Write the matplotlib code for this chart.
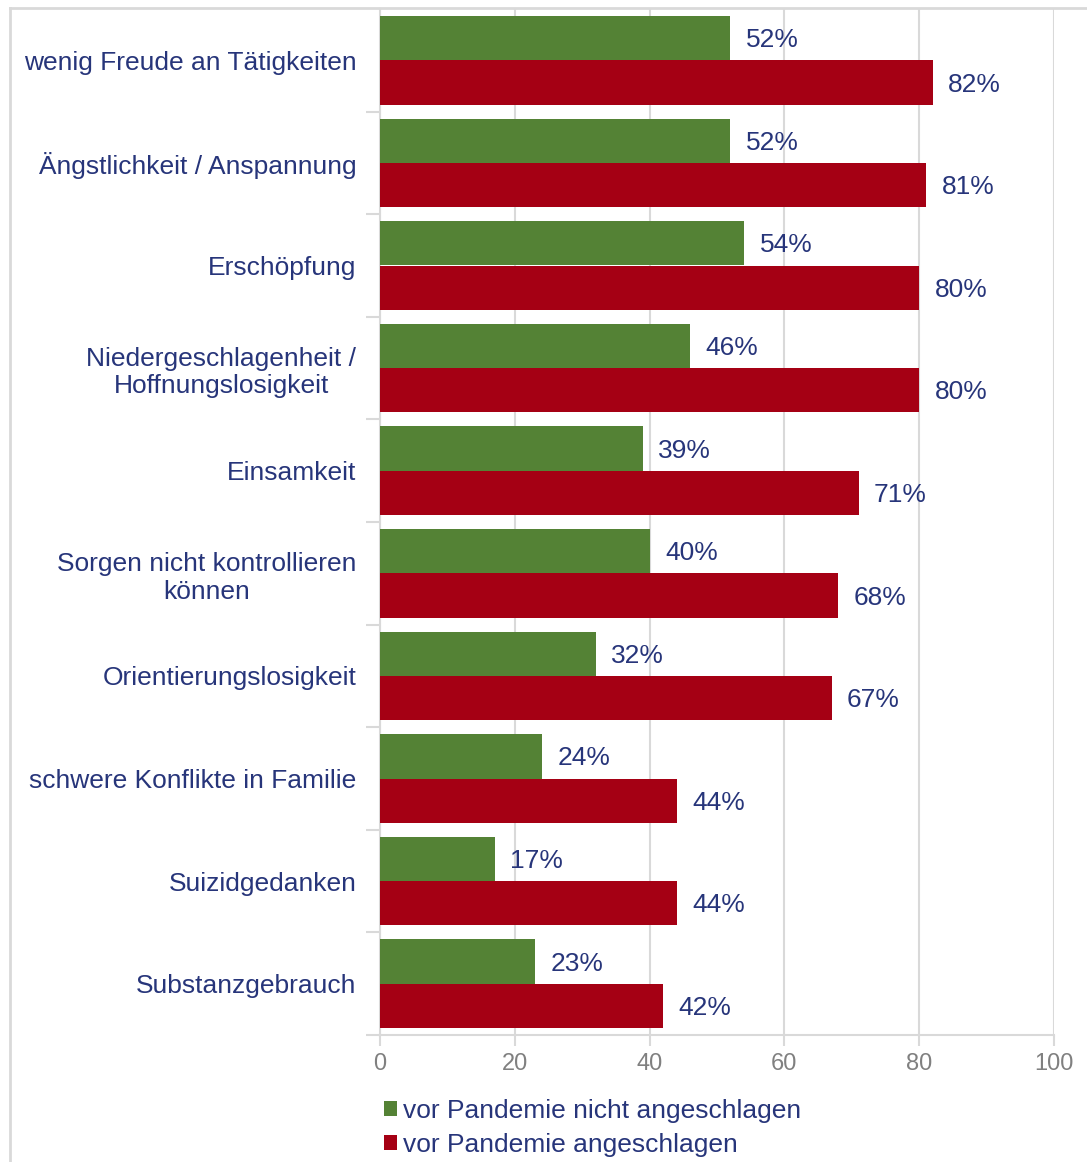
import matplotlib.pyplot as plt
import numpy as np
from matplotlib.lines import Line2D

plt.rcParams['font.family'] = ['Liberation Sans', 'DejaVu Sans']

# Daten
kategorien = ['wenig Freude an Tätigkeiten', 'Ängstlichkeit / Anspannung', 'Erschöpfung',
              'Niedergeschlagenheit /\nHoffnungslosigkeit', 'Einsamkeit',
              'Sorgen nicht kontrollieren\nkönnen', 'Orientierungslosigkeit',
              'schwere Konflikte in Familie', 'Suizidgedanken', 'Substanzgebrauch']
nicht_angeschlagen = [52, 52, 54, 46, 39, 40, 32, 24, 17, 23]
angeschlagen = [82, 81, 80, 80, 71, 68, 67, 44, 44, 42]
serien = ['vor Pandemie nicht angeschlagen', 'vor Pandemie angeschlagen']
x_ticks = [0, 20, 40, 60, 80, 100]

gruen = '#548235'
rot = '#A50014'
text_farbe = '#27357A'
grau = '#D9D9D9'

fig = plt.figure(figsize=(10.87, 11.62), dpi=100)
ax = fig.add_axes([380 / 1087, 1 - 1035 / 1162, 674 / 1087, 1026 / 1162])

y = np.arange(len(kategorien))
h = 0.432
b1 = ax.barh(y - h / 2, nicht_angeschlagen, height=h, color=gruen, label=serien[0], zorder=3)
b2 = ax.barh(y + h / 2, angeschlagen, height=h, color=rot, label=serien[1], zorder=3)

for i in range(len(kategorien)):
    ax.text(nicht_angeschlagen[i] + 2.3, y[i] - h / 2 + 0.02, '%d%%' % nicht_angeschlagen[i],
            va='center', ha='left', color=text_farbe, fontsize=19)
    ax.text(angeschlagen[i] + 2.3, y[i] + h / 2 + 0.02, '%d%%' % angeschlagen[i],
            va='center', ha='left', color=text_farbe, fontsize=19)

ax.set_xlim(0, 100)
ax.set_ylim(9.5, -0.5)
ax.set_xticks(x_ticks)
ax.set_yticks(y)
ax.set_yticklabels(kategorien, color=text_farbe, fontsize=19, multialignment='center')
ax.set_yticks(np.arange(len(kategorien)) + 0.5, minor=True)
ax.tick_params(axis='y', which='major', length=0, pad=17)
ax.tick_params(axis='y', which='minor', length=10, width=1.5, color=grau)
ax.tick_params(axis='x', length=8, width=1.5, color=grau, labelcolor='#808080',
               labelsize=17, pad=5)

ax.grid(axis='x', color=grau, linewidth=1.5, zorder=0)
for s in ['top', 'right']:
    ax.spines[s].set_visible(False)
for s in ['left', 'bottom']:
    ax.spines[s].set_color(grau)
    ax.spines[s].set_linewidth(1.5)

# Rahmen
fig.add_artist(Line2D([10 / 1087, 10 / 1087], [0, 1 - 8 / 1162], transform=fig.transFigure,
                      color=grau, linewidth=2))
fig.add_artist(Line2D([10 / 1087, 1], [1 - 8 / 1162, 1 - 8 / 1162], transform=fig.transFigure,
                      color=grau, linewidth=2))

fig.legend(handles=[b1, b2], loc='upper left', bbox_to_anchor=(371 / 1087, 1 - 1086 / 1162),
           frameon=False, fontsize=19, handlelength=0.48, handleheight=0.48,
           handletextpad=0.22, labelspacing=0.38, borderpad=0, labelcolor=text_farbe)

fig.savefig('out.png', dpi=100)
